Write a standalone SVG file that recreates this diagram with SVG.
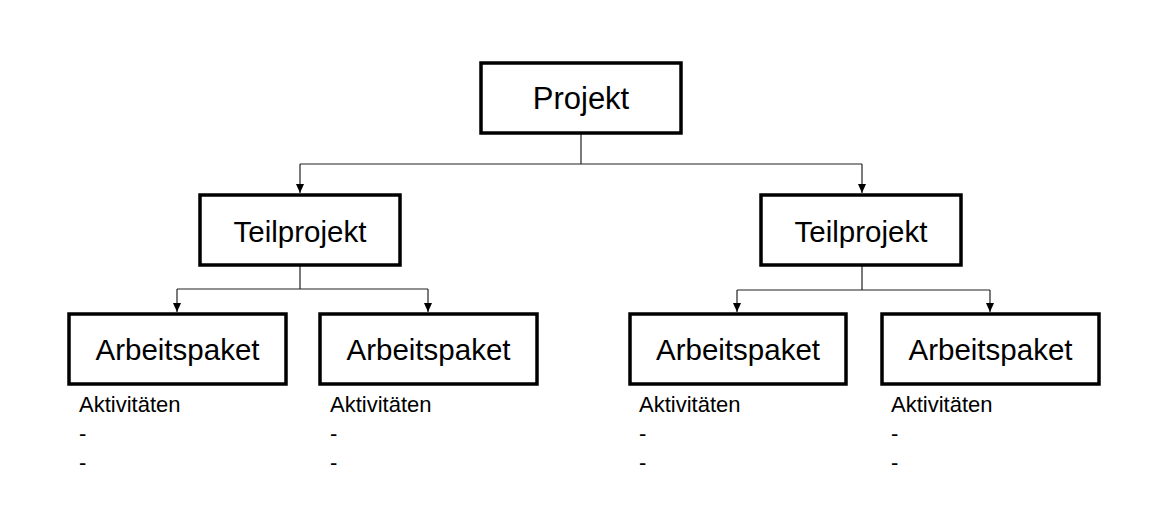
<svg xmlns="http://www.w3.org/2000/svg" width="1167" height="531" viewBox="0 0 1167 531">
<style>
.box{fill:#fff;stroke:#000;stroke-width:3.5}
.lbl{font-family:"Liberation Sans",Arial,sans-serif;font-size:29.5px;fill:#000;text-anchor:middle}
.act{font-family:"Liberation Sans",Arial,sans-serif;font-size:22px;fill:#000}
.con{fill:none;stroke:#222;stroke-width:1.2}
</style>
<defs>
<marker id="arr" viewBox="0 0 9 8" refX="9" refY="4" markerWidth="9" markerHeight="8" markerUnits="userSpaceOnUse" orient="auto">
<path d="M0,0 L9,4 L0,8 Z" fill="#000"/>
</marker>
</defs>
<rect width="1167" height="531" fill="#fff"/>
<g id="connectors">
<path class="con" d="M581,134 V164 M300,164 H862"/>
<path class="con" d="M300,164 V193" marker-end="url(#arr)"/>
<path class="con" d="M862,164 V193" marker-end="url(#arr)"/>
<path class="con" d="M300,266 V289 M177,289 H428"/>
<path class="con" d="M177,289 V312" marker-end="url(#arr)"/>
<path class="con" d="M428,289 V312" marker-end="url(#arr)"/>
<path class="con" d="M862,266 V290 M737,290 H990"/>
<path class="con" d="M737,290 V312" marker-end="url(#arr)"/>
<path class="con" d="M990,290 V312" marker-end="url(#arr)"/>
</g>
<g id="projekt">
<rect class="box" x="481" y="63" width="200" height="70"/>
<text class="lbl" x="581" y="109" style="font-size:31px">Projekt</text>
</g>
<g id="teilprojekt1">
<rect class="box" x="200" y="195" width="200" height="70"/>
<text class="lbl" x="300" y="242">Teilprojekt</text>
</g>
<g id="teilprojekt2">
<rect class="box" x="761" y="195" width="200" height="70"/>
<text class="lbl" x="861" y="242">Teilprojekt</text>
</g>
<g id="arbeitspaket1">
<rect class="box" x="69" y="314" width="217" height="70"/>
<text class="lbl" x="177.5" y="360">Arbeitspaket</text>
<text class="act" x="79" y="412">Aktivitäten</text>
<text class="act" x="79" y="441">-</text>
<text class="act" x="79" y="470">-</text>
</g>
<g id="arbeitspaket2">
<rect class="box" x="320" y="314" width="217" height="70"/>
<text class="lbl" x="428.5" y="360">Arbeitspaket</text>
<text class="act" x="330" y="412">Aktivitäten</text>
<text class="act" x="330" y="441">-</text>
<text class="act" x="330" y="470">-</text>
</g>
<g id="arbeitspaket3">
<rect class="box" x="630" y="314" width="216" height="70"/>
<text class="lbl" x="738" y="360">Arbeitspaket</text>
<text class="act" x="639" y="412">Aktivitäten</text>
<text class="act" x="639" y="441">-</text>
<text class="act" x="639" y="470">-</text>
</g>
<g id="arbeitspaket4">
<rect class="box" x="882" y="314" width="217" height="70"/>
<text class="lbl" x="990.5" y="360">Arbeitspaket</text>
<text class="act" x="891" y="412">Aktivitäten</text>
<text class="act" x="891" y="441">-</text>
<text class="act" x="891" y="470">-</text>
</g>
</svg>
